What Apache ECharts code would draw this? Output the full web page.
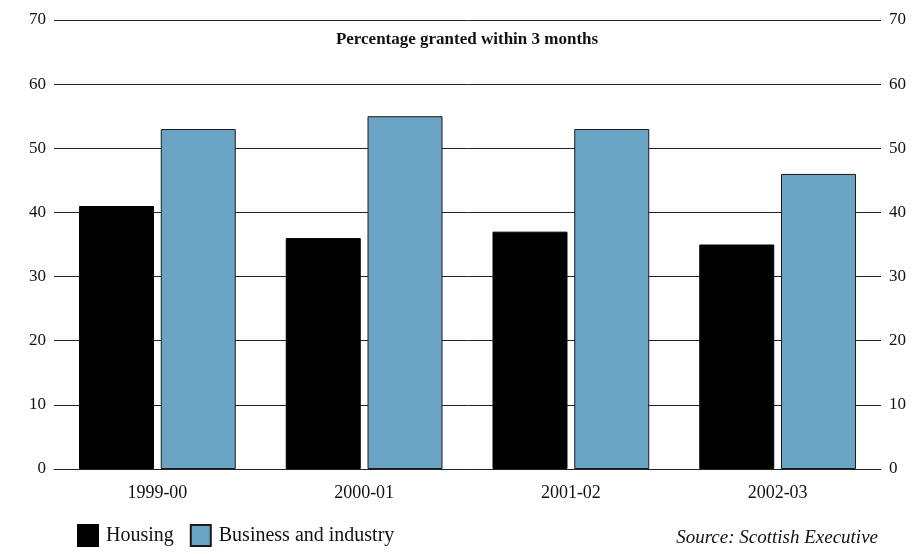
<!DOCTYPE html>
<html>
<head>
<meta charset="utf-8">
<script src="https://cdn.jsdelivr.net/npm/echarts@6/dist/echarts.min.js"></script>
<style>
  html, body { margin: 0; padding: 0; background: #fff; }
  #chart { width: 918px; height: 554px; }
</style>
</head>
<body>
<div id="chart"></div>
<script>
// Planning applications granted within 3 months, by year
const categories = ['1999-00', '2000-01', '2001-02', '2002-03'];
const housing = [41, 36, 37, 35];
const business = [53, 55, 53, 46];
const yTicks = [0, 10, 20, 30, 40, 50, 60, 70];

const serif = '"Liberation Serif", "DejaVu Serif", serif';
const chart = echarts.init(document.getElementById('chart'), null, { renderer: 'canvas' });

const yAxisBase = {
  type: 'value',
  min: yTicks[0],
  max: yTicks[yTicks.length - 1],
  interval: yTicks[1] - yTicks[0],
  axisLine: { show: false },
  axisTick: { show: false },
  axisLabel: { color: '#111', fontFamily: serif, fontSize: 17, margin: 8 }
};

chart.setOption({
  animation: false,
  backgroundColor: '#fff',
  title: {
    text: 'Percentage granted within 3 months',
    left: 467, top: 31, textAlign: 'center', padding: 0,
    textStyle: { fontFamily: serif, fontWeight: 'bold', fontSize: 17, color: '#111' }
  },
  grid: { left: 54, right: 37, top: 20, bottom: 85, containLabel: false },
  xAxis: {
    type: 'category',
    data: categories,
    axisLine: { show: true, lineStyle: { color: '#222', width: 1 } },
    axisTick: { show: false },
    axisLabel: { color: '#111', fontFamily: serif, fontSize: 18, margin: 15 }
  },
  yAxis: [
    Object.assign({}, yAxisBase, {
      position: 'left',
      splitLine: { show: true, lineStyle: { color: '#222', width: 1 } }
    }),
    Object.assign({}, yAxisBase, {
      position: 'right',
      splitLine: { show: false }
    })
  ],
  legend: {
    left: 77, top: 524, padding: 0,
    itemWidth: 20, itemHeight: 21, itemGap: 16,
    icon: 'rect',
    textStyle: { fontFamily: serif, fontSize: 20, color: '#111', padding: [4, 0, 0, 3] },
    data: ['Housing', 'Business and industry']
  },
  graphic: [{
    type: 'text',
    right: 40, top: 528,
    style: {
      text: 'Source: Scottish Executive',
      font: 'italic 19px ' + serif,
      fill: '#111'
    }
  }],
  series: [
    {
      name: 'Housing', type: 'bar', data: housing,
      barWidth: 75, barGap: '9%',
      itemStyle: { color: '#000', borderColor: '#000', borderWidth: 1 }
    },
    {
      name: 'Business and industry', type: 'bar', data: business,
      barWidth: 75,
      itemStyle: { color: '#6aa4c4', borderColor: '#1a1a1a', borderWidth: 1 }
    }
  ]
});
</script>
</body>
</html>
